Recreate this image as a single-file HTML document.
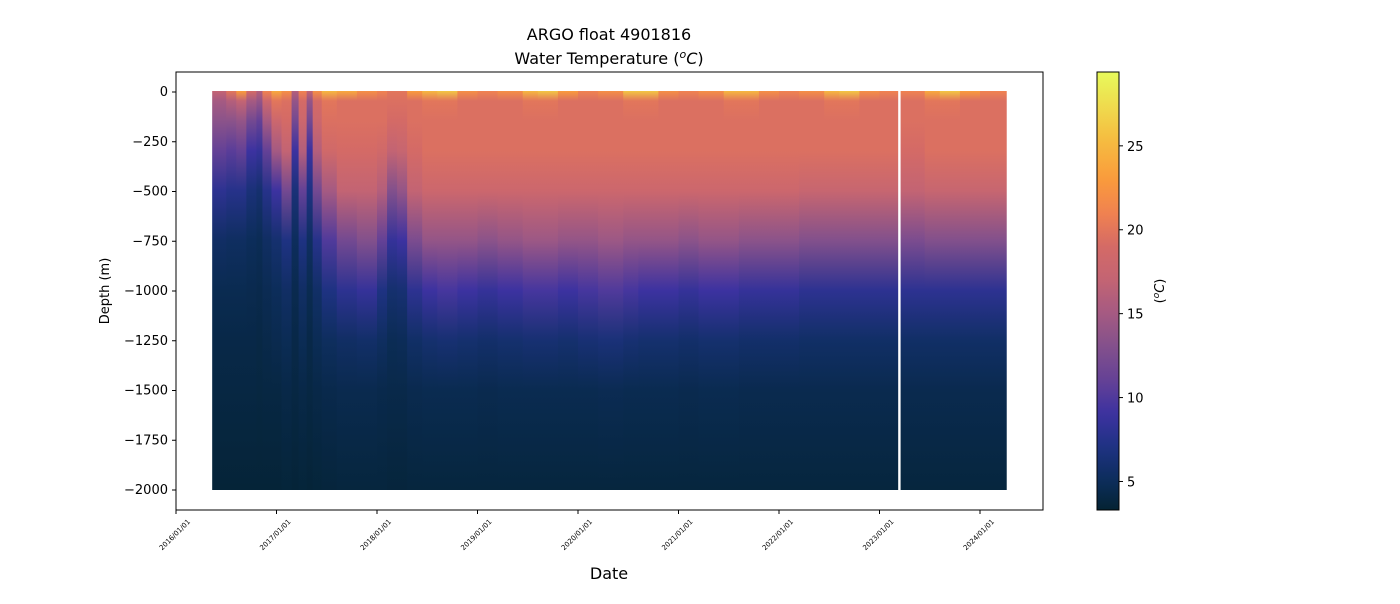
<!DOCTYPE html>
<html><head><meta charset="utf-8"><style>
body{margin:0;background:#fff;font-family:"DejaVu Sans","Liberation Sans",sans-serif;}
</style></head><body>
<svg id="chart" width="1400" height="600" xmlns="http://www.w3.org/2000/svg" font-family="DejaVu Sans, Liberation Sans, sans-serif">
<defs id="defs"></defs>
<text x="609" y="40" text-anchor="middle" font-size="16">ARGO float 4901816</text>
<text x="609" y="64" text-anchor="middle" font-size="16">Water Temperature (<tspan font-style="italic" font-size="11" dy="-6">o</tspan><tspan font-style="italic" dy="6">C</tspan>)</text>
<g id="plot"></g>
<rect x="176" y="72" width="867" height="438" fill="none" stroke="#000" stroke-width="1"/>
<g id="axes"></g>
<text x="609" y="579" text-anchor="middle" font-size="16">Date</text>
<text transform="translate(109,291) rotate(-90)" text-anchor="middle" font-size="13">Depth (m)</text>
<g id="cbar"></g>
<text transform="translate(1164,291) rotate(-90)" text-anchor="middle" font-size="13">(<tspan font-style="italic" font-size="9" dy="-5">o</tspan><tspan font-style="italic" dy="5">C</tspan>)</text>
</svg>
<script>
const depthLevels=[0,50,150,300,500,750,1000,1250,1500,2000];
const profileDates=[2016.36,2016.5,2016.6,2016.7,2016.8,2016.86,2016.95,2017.05,2017.15,2017.22,2017.3,2017.36,2017.45,2017.6,2017.8,2018.0,2018.1,2018.2,2018.3,2018.45,2018.6,2018.8,2019.0,2019.2,2019.45,2019.6,2019.8,2020.0,2020.2,2020.45,2020.6,2020.8,2021.0,2021.2,2021.45,2021.6,2021.8,2022.0,2022.2,2022.45,2022.6,2022.8,2023.0,2023.21,2023.45,2023.6,2023.8,2024.0];
const profileEnd=[2016.5,2016.6,2016.7,2016.8,2016.86,2016.95,2017.05,2017.15,2017.22,2017.3,2017.36,2017.45,2017.6,2017.8,2018.0,2018.1,2018.2,2018.3,2018.45,2018.6,2018.8,2019.0,2019.2,2019.45,2019.6,2019.8,2020.0,2020.2,2020.45,2020.6,2020.8,2021.0,2021.2,2021.45,2021.6,2021.8,2022.0,2022.2,2022.45,2022.6,2022.8,2023.0,2023.18,2023.45,2023.6,2023.8,2024.0,2024.26];
const profileTemps=[
[17,15,13.5,11,8,5.5,4.6,4.2,4,3.5],
[20,16,13.5,10.5,7.5,5.3,4.6,4.2,4,3.5],
[23,17,14,11,7.5,5.3,4.6,4.2,4,3.5],
[19,15,12,9,6.5,5,4.5,4.2,4,3.5],
[16,14,11,8.5,6,4.8,4.4,4.1,3.9,3.5],
[21,18,15,11,7.5,5.4,4.7,4.3,4,3.5],
[24,20,18,15,9,6,5,4.5,4,3.5],
[22,19.5,19,17,12,7,5.5,4.8,4.2,3.6],
[16,14,12,9,6.5,5.1,4.5,4.2,4,3.5],
[21,19,18,16,11,7,5.5,4.8,4.2,3.6],
[17,14,12,9,7,5.3,4.6,4.2,4,3.5],
[22,19,18,16,12,7.5,5.6,4.8,4.2,3.6],
[25,20,19.5,18.5,15,10,7,5.2,4.4,3.7],
[24,19.5,19.5,19,17,12,8,5.5,4.5,3.8],
[22,19.5,19.5,19,17,13,8.5,5.7,4.5,3.8],
[21,19.5,19.5,18.5,16,11,7,5.3,4.4,3.8],
[20,19.5,19,17,13,8.5,6,4.8,4.3,3.7],
[20,19.5,19,17.5,14,9,6.2,4.9,4.3,3.7],
[23,19.5,19.5,19,17,12.5,8,5.6,4.5,3.8],
[25,20,19.5,19.5,18,14,9,6,4.6,3.8],
[26,20,19.5,19.5,18,14,9.5,6.2,4.6,3.8],
[22,19.5,19.5,19.5,18,14,9,6,4.6,3.8],
[21,19.5,19.5,19.5,18,13.5,8.5,5.8,4.5,3.8],
[22,19.5,19.5,19.5,18,14,9,6,4.6,3.8],
[25,20,19.5,19.5,18,14.5,9.5,6.2,4.6,3.8],
[26,20,19.5,19.5,18,14.5,9.5,6.2,4.6,3.8],
[23,19.5,19.5,19.5,18,14,9,6,4.6,3.8],
[21,19.5,19.5,19.5,18,14,9.5,6.3,4.6,3.8],
[22,19.5,19.5,19.5,18,14.5,10,6.5,4.7,3.8],
[26,20,19.5,19.5,18,14,9.5,6.2,4.6,3.8],
[26,20,19.5,19.5,18,14,9,6,4.6,3.8],
[22,19.5,19.5,19.5,18,14,9,6,4.6,3.8],
[21,19.5,19.5,19.5,18,13.5,8.5,5.8,4.5,3.8],
[22,19.5,19.5,19.5,18,14,9,6,4.6,3.8],
[25,20,19.5,19.5,18,14,9,6,4.6,3.8],
[25,20,19.5,19.5,18,13.5,8.5,5.8,4.5,3.8],
[22,19.5,19.5,19.5,18,13.5,8.5,5.8,4.5,3.8],
[21,19.5,19.5,19.5,18,13.5,8.5,5.8,4.5,3.8],
[22,19.5,19.5,19.5,17.5,13,8,5.6,4.5,3.8],
[25,20,19.5,19.5,17.5,13,8,5.6,4.5,3.8],
[26,20,19.5,19.5,17.5,13,8,5.6,4.5,3.8],
[22,19.5,19.5,19.5,17.5,13,8,5.6,4.5,3.8],
[21,19.5,19.5,19.5,17.5,13,8,5.6,4.5,3.8],
[21,19.5,19.5,19,17,12.5,8,5.6,4.5,3.8],
[24,20,19.5,19.5,17.5,13,8,5.6,4.5,3.8],
[26,20,19.5,19.5,17.5,13,8,5.6,4.5,3.8],
[23,19.5,19.5,19.5,17.5,13,8,5.6,4.5,3.8],
[21,19.5,19.5,19.5,17.5,13,8,5.6,4.5,3.8]];
const xTickYears=[2016,2017,2018,2019,2020,2021,2022,2023,2024];
const yTicks=[0,-250,-500,-750,-1000,-1250,-1500,-1750,-2000];
const cbarTicks=[5,10,15,20,25];
const vMin=3.3,vMax=29.4;

const NS="http://www.w3.org/2000/svg";
const xS=d=>176+(d-2016)*100.5;
const yS=z=>92-z*0.199;
const cS=t=>510-(t-vMin)/(vMax-vMin)*438;
const cmap=[[3.3,4,35,51],[5,12,45,90],[7,30,50,130],[9,60,50,160],[11,100,65,150],[13,130,80,140],[15,165,90,130],[17,195,100,115],[19,212,106,102],[21,240,130,80],[23,250,155,60],[25.5,245,190,65],[29.4,232,250,91]];
function color(t){t=Math.max(vMin,Math.min(vMax,t));for(let i=1;i<cmap.length;i++){if(t<=cmap[i][0]){const a=cmap[i-1],b=cmap[i],u=(t-a[0])/(b[0]-a[0]);return `rgb(${[1,2,3].map(k=>Math.round(a[k]+(b[k]-a[k])*u)).join(',')})`;}}return 'rgb(232,250,91)';}
function el(tag,attrs,parent){const e=document.createElementNS(NS,tag);for(const k in attrs)e.setAttribute(k,attrs[k]);parent.appendChild(e);return e;}
const defs=document.getElementById('defs'),plot=document.getElementById('plot'),axes=document.getElementById('axes'),cbar=document.getElementById('cbar');
profileDates.forEach((d,i)=>{
  const g=el('linearGradient',{id:'g'+i,x1:0,y1:0,x2:0,y2:1},defs);
  depthLevels.forEach((z,j)=>el('stop',{offset:z/2000,'stop-color':color(profileTemps[i][j])},g));
  const x0=xS(d),x1=xS(profileEnd[i]);
  const r=el('rect',{x:x0,y:yS(0)-1,width:Math.max(1,x1-x0+0.6),height:yS(-2000)-yS(0)+1,fill:'url(#g'+i+')'},plot);
  
  
});
xTickYears.forEach(y=>{
  const x=xS(y);
  el('line',{x1:x,x2:x,y1:510,y2:514,stroke:'#000'},axes);
  const t=el('text',{transform:`translate(${x-1},535) rotate(-45)`,'text-anchor':'middle','dominant-baseline':'middle','font-size':7},axes);
  t.textContent=y+'/01/01';
  
  
});
yTicks.forEach(v=>{
  const y=yS(v);
  el('line',{x1:172,x2:176,y1:y,y2:y,stroke:'#000'},axes);
  const t=el('text',{x:168,y:y+4,'text-anchor':'end','font-size':13},axes);
  t.textContent=v<0?'\u2212'+(-v):v;
  
  
});
const cg=el('linearGradient',{id:'cbg',x1:0,y1:1,x2:0,y2:0},defs);
for(let k=0;k<=40;k++){el('stop',{offset:k/40,'stop-color':color(vMin+(vMax-vMin)*k/40)},cg);}
el('rect',{x:1097,y:72,width:22,height:438,fill:'url(#cbg)',stroke:'#000','stroke-width':1},cbar);
cbarTicks.forEach(v=>{
  const y=cS(v);
  el('line',{x1:1119,x2:1123,y1:y,y2:y,stroke:'#000'},cbar);
  const t=el('text',{x:1127,y:y+5,'font-size':13},cbar);
  t.textContent=v;
  
  
});
</script>
</body></html>
